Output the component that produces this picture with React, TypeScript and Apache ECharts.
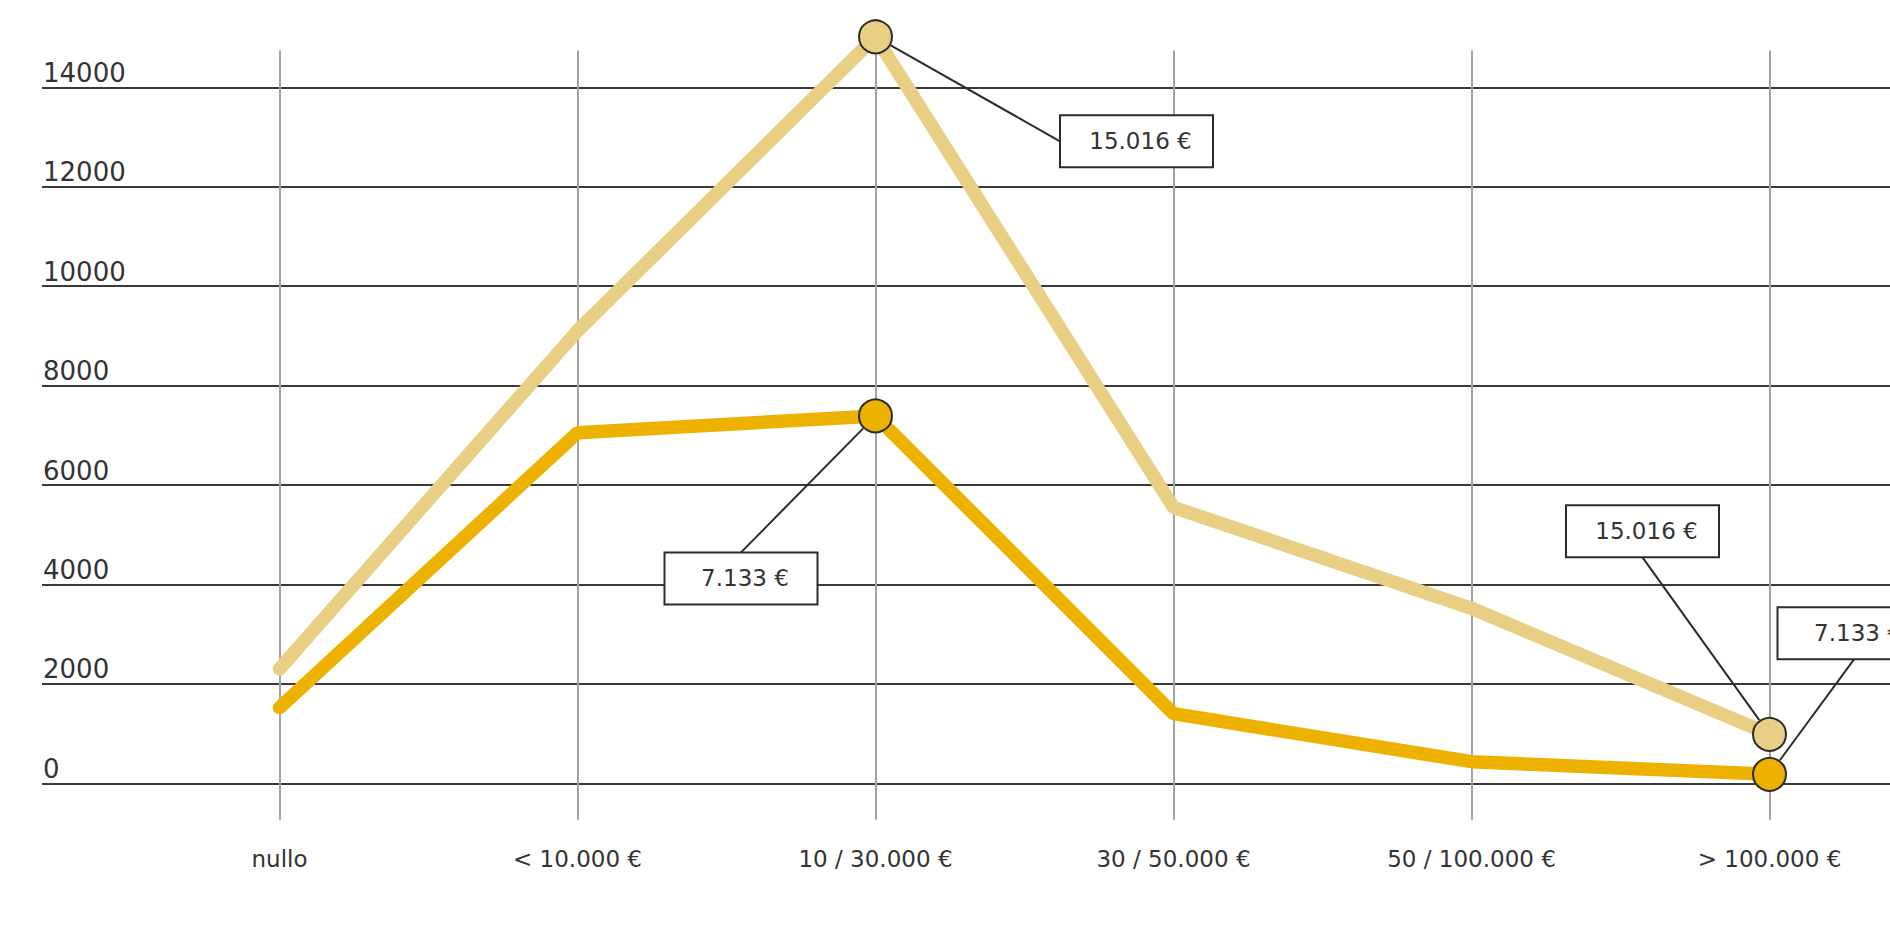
import React, { useEffect, useRef } from 'react';
import * as echarts from 'echarts';

// ---- data ----
const categories = ['nullo', '< 10.000 €', '10 / 30.000 €', '30 / 50.000 €', '50 / 100.000 €', '> 100.000 €'];
const lightValues = [2300, 9100, 15016, 5550, 3520, 985];
const darkValues = [1520, 7050, 7390, 1400, 435, 180];
const yMin = 0;
const yMax = 14000;
const yInterval = 2000;
const lightCalloutText = '15.016 €';
const darkCalloutText = '7.133 €';

// ---- layout (callout box offsets from their point, px, and the edge the leader attaches to) ----
type Callout = { dx: number; dy: number; side: 'left' | 'top' | 'bottom' };
const lightCallouts: Record<number, Callout> = {
  2: { dx: 261, dy: 104.5, side: 'left' },
  5: { dx: -127, dy: -203, side: 'bottom' },
};
const darkCallouts: Record<number, Callout> = {
  2: { dx: -134.5, dy: 162.5, side: 'top' },
  5: { dx: 84.5, dy: -141, side: 'bottom' },
};

const LIGHT = '#E8CF83';
const DARK = '#EDB100';
const INK = '#2b2b2b';
const FONT = 'DejaVu Sans';
const BOX_HALF_W = 76.5;
const BOX_HALF_H = 26;
const SYMBOL = 33;

const makeData = (vals: number[], callouts: Record<number, Callout>, text: string) =>
  vals.map((v, i) => {
    const has = callouts[i] != null;
    return {
      value: [i, v],
      symbol: has ? 'circle' : 'none',
      label: { show: has, formatter: text },
    };
  });

const makeSeries = (name: string, color: string, vals: number[], callouts: Record<number, Callout>, text: string, z: number) => ({
  name,
  type: 'line',
  xAxisIndex: 2,
  yAxisIndex: 2,
  data: makeData(vals, callouts, text),
  color,
  clip: false,
  z,
  symbolSize: SYMBOL,
  showSymbol: true,
  lineStyle: { color, width: 13.5, cap: 'round' },
  itemStyle: { color, borderColor: INK, borderWidth: 2 },
  label: {
    fontSize: 23,
    fontFamily: FONT,
    color: '#333',
    backgroundColor: '#fff',
    borderColor: INK,
    borderWidth: 2,
    padding: [0, 0, 0, 8],
    width: 143,
    height: 50,
    lineHeight: 50,
    align: 'center',
  },
  labelLayout: (p: any) => {
    const c = callouts[p.dataIndex];
    if (!c) return {};
    return {
      x: p.rect.x + p.rect.width / 2 + c.dx,
      y: p.rect.y + p.rect.height / 2 + c.dy,
      align: 'center',
      verticalAlign: 'middle',
    };
  },
  emphasis: { disabled: true },
});

export default function App() {
  const ref = useRef<HTMLDivElement>(null);
  useEffect(() => {
    if (!ref.current) return;
    const chart = echarts.init(ref.current, undefined, { renderer: 'svg' });
    chart.setOption({
      animation: false,
      backgroundColor: '#ffffff',
      grid: [
        { left: 279.5, right: 120.5, top: 50.6, bottom: 131.3 },
        { left: 42, right: 0, top: 87.3, bottom: 167.7 },
        { left: 279.5, right: 120.5, top: 87.3, bottom: 167.7 },
      ],
      xAxis: [
        {
          gridIndex: 0,
          type: 'value',
          min: 0,
          max: categories.length - 1,
          interval: 1,
          axisLine: { show: false },
          axisTick: { show: false },
          splitLine: { show: true, lineStyle: { color: '#a3a3a3', width: 2 } },
          axisLabel: {
            formatter: (v: number) => categories[v] ?? '',
            fontSize: 23,
            lineHeight: 23,
            fontFamily: FONT,
            color: '#333',
            margin: 28,
            showMinLabel: true,
            showMaxLabel: true,
          },
        },
        { gridIndex: 1, type: 'value', show: false, min: 0, max: 1 },
        { gridIndex: 2, type: 'value', show: false, min: 0, max: categories.length - 1 },
      ],
      yAxis: [
        { gridIndex: 0, type: 'value', show: false, min: 0, max: 1, splitLine: { show: false } },
        {
          gridIndex: 1,
          type: 'value',
          min: yMin,
          max: yMax,
          interval: yInterval,
          axisLine: { show: false },
          axisTick: { show: false },
          splitLine: { show: true, lineStyle: { color: '#3a3a3a', width: 2 } },
          axisLabel: {
            inside: true,
            margin: 1,
            align: 'left',
            verticalAlign: 'bottom',
            fontSize: 26,
            lineHeight: 29,
            fontFamily: FONT,
            color: '#333',
            formatter: (v: number) => String(v),
          },
        },
        { gridIndex: 2, type: 'value', show: false, min: yMin, max: yMax },
      ],
      series: [
        makeSeries('light', LIGHT, lightValues, lightCallouts, lightCalloutText, 3),
        makeSeries('dark', DARK, darkValues, darkCallouts, darkCalloutText, 4),
      ],
    });

    // leader lines from the callout boxes to the point markers
    const leaders: any[] = [];
    const addLeaders = (seriesIndex: number, vals: number[], callouts: Record<number, Callout>) => {
      Object.keys(callouts).forEach((k) => {
        const i = Number(k);
        const c = callouts[i];
        const p = chart.convertToPixel({ seriesIndex }, [i, vals[i]]) as number[];
        if (!p) return;
        const cx = p[0] + c.dx;
        const cy = p[1] + c.dy;
        let ax = cx;
        let ay = cy;
        if (c.side === 'left') ax = cx - BOX_HALF_W;
        if (c.side === 'top') ay = cy - BOX_HALF_H;
        if (c.side === 'bottom') ay = cy + BOX_HALF_H;
        const ddx = ax - p[0];
        const ddy = ay - p[1];
        const len = Math.sqrt(ddx * ddx + ddy * ddy) || 1;
        const r = SYMBOL / 2 + 1;
        leaders.push({
          type: 'line',
          z: 10,
          shape: { x1: p[0] + (ddx / len) * r, y1: p[1] + (ddy / len) * r, x2: ax, y2: ay },
          style: { stroke: INK, lineWidth: 2 },
          silent: true,
        });
      });
    };
    addLeaders(0, lightValues, lightCallouts);
    addLeaders(1, darkValues, darkCallouts);
    chart.setOption({ graphic: leaders });

    return () => chart.dispose();
  }, []);
  return <div ref={ref} style={{ position: 'fixed', left: 0, top: 0, width: 1890, height: 951 }} />;
}
